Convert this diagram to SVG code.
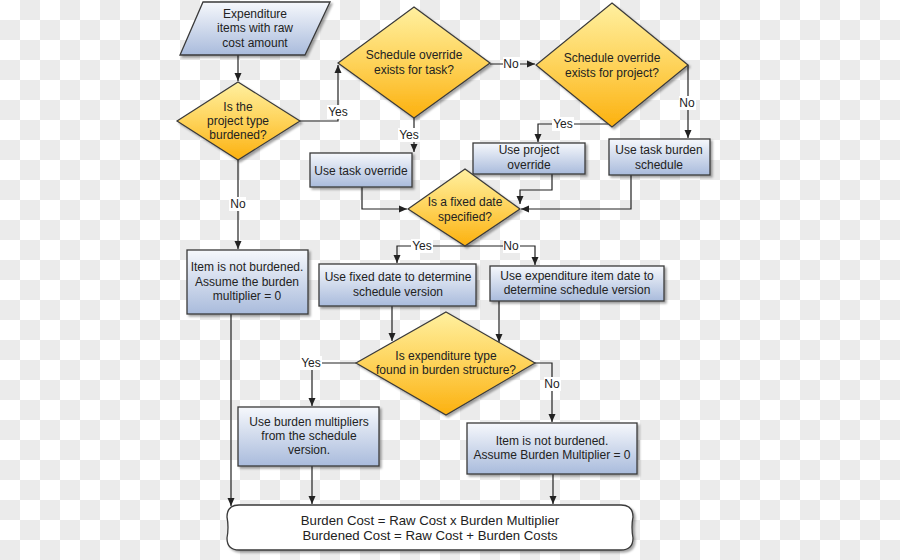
<svg xmlns="http://www.w3.org/2000/svg" width="900" height="560" viewBox="0 0 900 560">
<style>
text{font-family:"Liberation Sans",Arial,sans-serif;font-size:12px;fill:#222;text-anchor:middle}
.big{font-size:13.2px}
.box{fill:url(#gBlue);stroke:#3a3a3a;stroke-width:1.3;filter:url(#sh)}
.dia{fill:url(#gYel);stroke:#3a3a3a;stroke-width:1.2;filter:url(#sh)}
.term{fill:#fff;stroke:#3a3a3a;stroke-width:1.3;filter:url(#sh)}
.ln{fill:none;stroke:#222;stroke-width:1.2}
.arr{marker-end:url(#ah)}
.lb{fill:#fff}
</style>
<defs>
<pattern id="chk" width="40" height="40" patternUnits="userSpaceOnUse">
<rect width="40" height="40" fill="#fff"/>
<rect x="20" y="0" width="20" height="20" fill="#ebebeb"/>
<rect x="0" y="20" width="20" height="20" fill="#ebebeb"/>
</pattern>
<linearGradient id="gBlue" x1="0" y1="0" x2="0" y2="1">
<stop offset="0" stop-color="#f6f8fc"/>
<stop offset="1" stop-color="#a9bbdc"/>
</linearGradient>
<linearGradient id="gYel" x1="0" y1="0" x2="0" y2="1">
<stop offset="0" stop-color="#fff0a0"/>
<stop offset="0.5" stop-color="#fed35a"/>
<stop offset="1" stop-color="#fcb10f"/>
</linearGradient>
<filter id="sh" x="-10%" y="-10%" width="125%" height="130%">
<feDropShadow dx="2" dy="2" stdDeviation="1.2" flood-color="#000" flood-opacity="0.35"/>
</filter>
<marker id="ah" markerWidth="8" markerHeight="8" refX="8" refY="4" orient="auto" markerUnits="userSpaceOnUse">
<path d="M0,0.5 L8,4 L0,7.5 z" fill="#222"/>
</marker>
</defs>
<rect width="900" height="560" fill="url(#chk)"/>

<g id="connectors">
<path class="ln arr" d="M238,55 V81"/>
<path class="ln arr" d="M300,121 H338 V65"/>
<path class="ln arr" d="M414,118 V152"/>
<path class="ln arr" d="M490,64 H535"/>
<path class="ln arr" d="M608,124 H538 V142"/>
<path class="ln arr" d="M688,65 V138"/>
<path class="ln arr" d="M238,160 V249"/>
<path class="ln arr" d="M362,187 V209 H407"/>
<path class="ln arr" d="M552,174 V190 H520 V204"/>
<path class="ln arr" d="M631,175 V209 H521"/>
<path class="ln arr" d="M465,246 H397 V263"/>
<path class="ln arr" d="M465,246 H535 V265"/>
<path class="ln arr" d="M231,314 V506"/>
<path class="ln arr" d="M392,306 V341"/>
<path class="ln arr" d="M499,301 V342"/>
<path class="ln arr" d="M356,363 H312 V406"/>
<path class="ln arr" d="M535,363 H552 V422"/>
<path class="ln arr" d="M312,466 V504"/>
<path class="ln arr" d="M553,474 V504"/>
<rect class="lb" x="327" y="105" width="22" height="14"/><text x="338" y="116">Yes</text>
<rect class="lb" x="398" y="128" width="22" height="14"/><text x="409" y="139">Yes</text>
<rect class="lb" x="503" y="57" width="17" height="14"/><text x="511" y="68">No</text>
<rect class="lb" x="552" y="117" width="22" height="14"/><text x="563" y="128">Yes</text>
<rect class="lb" x="679" y="96" width="17" height="14"/><text x="687" y="107">No</text>
<rect class="lb" x="229" y="197" width="17" height="14"/><text x="238" y="208">No</text>
<rect class="lb" x="411" y="239" width="22" height="14"/><text x="422" y="250">Yes</text>
<rect class="lb" x="503" y="239" width="17" height="14"/><text x="511" y="250">No</text>
<rect class="lb" x="300" y="356" width="22" height="14"/><text x="311" y="367">Yes</text>
<rect class="lb" x="544" y="377" width="17" height="14"/><text x="552" y="388">No</text>
</g>

<g id="n_input">
<polygon class="box" points="203,2 330,2 305,55 180,55"/>
<text x="255" y="18">Expenditure</text>
<text x="255" y="32">items with raw</text>
<text x="255" y="47">cost amount</text>
</g>
<g id="n_burdened">
<polygon class="dia" points="238,82 300,121 238,160 177,121"/>
<text x="238" y="111">Is the</text>
<text x="238" y="125">project type</text>
<text x="238" y="139">burdened?</text>
</g>
<g id="n_task_ovr_q">
<polygon class="dia" points="414,7 490,63 414,118 338,63"/>
<text x="414" y="59">Schedule override</text>
<text x="414" y="74">exists for task?</text>
</g>
<g id="n_proj_ovr_q">
<polygon class="dia" points="612,3 688,65 612,127 536,65"/>
<text x="612" y="62">Schedule override</text>
<text x="612" y="77">exists for project?</text>
</g>
<g id="n_task_ovr">
<rect class="box" x="310" y="153" width="102" height="34"/>
<text x="361" y="175">Use task override</text>
</g>
<g id="n_proj_ovr">
<rect class="box" x="473" y="143" width="112" height="31"/>
<text x="529" y="154">Use project</text>
<text x="529" y="169">override</text>
</g>
<g id="n_task_sched">
<rect class="box" x="609" y="139" width="101" height="36"/>
<text x="659" y="154">Use task burden</text>
<text x="659" y="169">schedule</text>
</g>
<g id="n_fixed_q">
<polygon class="dia" points="465,169 520,209 465,246 408,209"/>
<text x="465" y="206">Is a fixed date</text>
<text x="465" y="221">specified?</text>
</g>
<g id="n_not_burdened1">
<rect class="box" x="187" y="250" width="121" height="64"/>
<text x="247" y="271">Item is not burdened.</text>
<text x="247" y="286">Assume the burden</text>
<text x="247" y="300">multiplier = 0</text>
</g>
<g id="n_fixed">
<rect class="box" x="319" y="264" width="157" height="42"/>
<text x="398" y="281">Use fixed date to determine</text>
<text x="398" y="296">schedule version</text>
</g>
<g id="n_item_date">
<rect class="box" x="490" y="266" width="174" height="35"/>
<text x="577" y="280">Use expenditure item date to</text>
<text x="577" y="294">determine schedule version</text>
</g>
<g id="n_type_q">
<polygon class="dia" points="446,312 535,363 446,415 356,363"/>
<text x="446" y="360">Is expenditure type</text>
<text x="446" y="374">found in burden structure?</text>
</g>
<g id="n_multipliers">
<rect class="box" x="238" y="407" width="141" height="59"/>
<text x="309" y="426">Use burden multipliers</text>
<text x="309" y="440">from the schedule</text>
<text x="309" y="454">version.</text>
</g>
<g id="n_not_burdened2">
<rect class="box" x="467" y="423" width="170" height="51"/>
<text x="552" y="445">Item is not burdened.</text>
<text x="552" y="459">Assume Burden Multiplier = 0</text>
</g>
<g id="n_result">
<path class="term" d="M239,505 H621 Q633,505 633,517 Q631,527 633,538 Q633,550 621,550 H239 Q227,550 227,538 Q229,527 227,517 Q227,505 239,505 Z"/>
<text class="big" x="430" y="525">Burden Cost = Raw Cost x Burden Multiplier</text>
<text class="big" x="430" y="540">Burdened Cost = Raw Cost + Burden Costs</text>
</g>
</svg>
